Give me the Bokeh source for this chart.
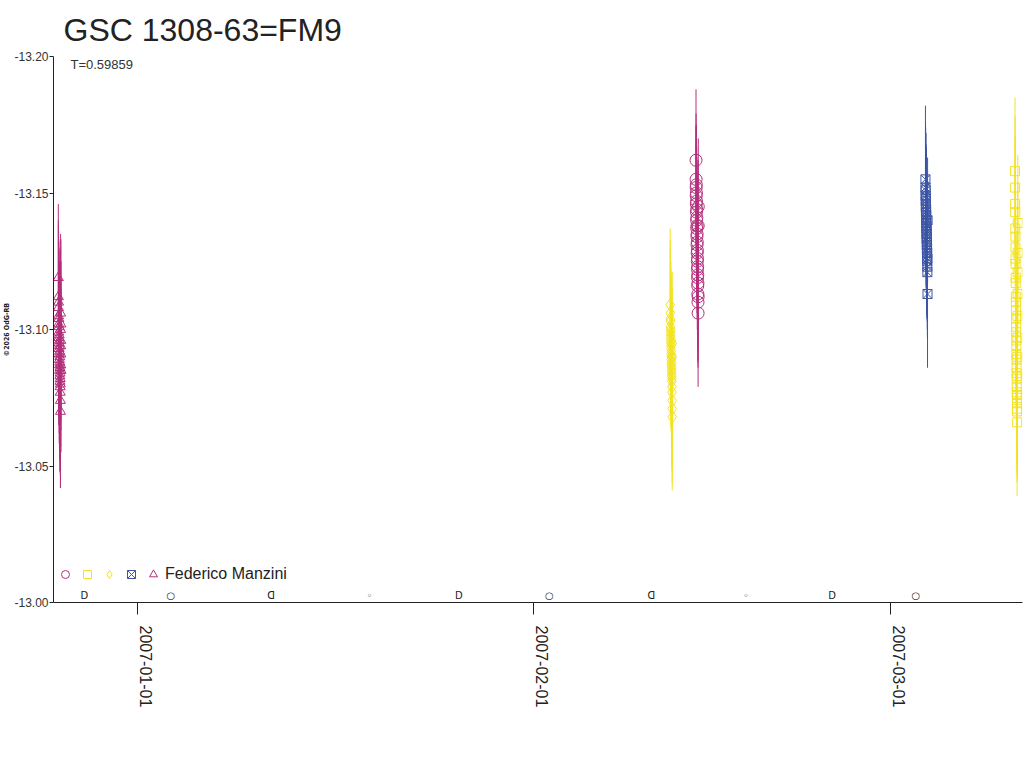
import math
from datetime import datetime, timedelta

from bokeh.plotting import figure
from bokeh.models import (Range1d, FixedTicker, DatetimeTickFormatter, ColumnDataSource,
                          Label, LabelSet, Legend, LegendItem, PrintfTickFormatter)
from bokeh.embed import file_html
from bokeh.resources import INLINE
from bokeh.core.properties import value

# ---------------- data ----------------
TITLE = "GSC 1308-63=FM9"
SUBTITLE = "T=0.59859"
OBSERVER = "Federico Manzini"
CREDIT = "\u00a92026 OdG-RB"

y_ticks = [-13.20, -13.15, -13.10, -13.05, -13.00]
x_tick_dates = ["2007-01-01", "2007-02-01", "2007-03-01"]
x_start = "2006-12-25 09:00"
x_end = "2007-03-11 08:40"

moon_dates = ["2006-12-27 19:00", "2007-01-03 14:00", "2007-01-11 10:30", "2007-01-19 03:30",
              "2007-01-26 04:00", "2007-02-02 06:00", "2007-02-10 06:00", "2007-02-17 16:00",
              "2007-02-24 10:30", "2007-03-03 00:00"]
moon_phases = ["first", "full", "last", "new", "first", "full", "last", "new", "first", "full"]

# night 1 (triangles)
c1_night = "2006-12-25"
c1_hours = [18.05, 18.19, 18.31, 18.48, 18.60, 18.77, 18.88, 19.03, 19.16, 19.29,
            19.41, 19.57, 19.66, 19.82, 19.93, 20.08, 20.17, 20.33, 20.45, 20.58,
            20.71, 20.84, 20.96, 21.09, 21.22, 21.36, 21.47, 21.61, 21.73, 21.86,
            21.98, 22.12, 22.25, 22.37, 22.49, 22.63, 22.74, 22.88, 23.01, 23.14]
c1_mag = [-13.119, -13.112, -13.108, -13.105, -13.110, -13.102, -13.099, -13.104, -13.097, -13.101,
          -13.095, -13.093, -13.098, -13.091, -13.096, -13.089, -13.094, -13.087, -13.092, -13.085,
          -13.090, -13.088, -13.083, -13.086, -13.081, -13.084, -13.079, -13.082, -13.077, -13.080,
          -13.074, -13.070, -13.100, -13.106, -13.094, -13.087, -13.091, -13.096, -13.102, -13.085]
c1_err = [0.027, 0.028, 0.030, 0.029, 0.026, 0.031, 0.030, 0.028, 0.032, 0.029,
          0.030, 0.031, 0.027, 0.033, 0.029, 0.030, 0.028, 0.031, 0.029, 0.032,
          0.030, 0.028, 0.031, 0.029, 0.033, 0.030, 0.031, 0.028, 0.030, 0.029,
          0.032, 0.028, 0.030, 0.029, 0.031, 0.030, 0.028, 0.029, 0.031, 0.030]

# night 2 (diamonds)
c2_night = "2007-02-11"
c2_hours = [17.62, 17.75, 17.91, 18.03, 18.16, 18.30, 18.41, 18.57, 18.69, 18.82,
            18.95, 19.08, 19.22, 19.34, 19.47, 19.61, 19.72, 19.86, 19.99, 20.11,
            20.25, 20.38, 20.50, 20.64, 20.77, 20.89, 21.03, 21.16, 21.28, 21.42,
            21.55, 21.68]
c2_mag = [-13.109, -13.106, -13.104, -13.101, -13.103, -13.099, -13.097, -13.100, -13.095, -13.098,
          -13.093, -13.096, -13.091, -13.094, -13.089, -13.092, -13.087, -13.090, -13.085, -13.088,
          -13.083, -13.086, -13.081, -13.084, -13.079, -13.082, -13.077, -13.074, -13.071, -13.068,
          -13.095, -13.090]
c2_err = [0.028, 0.027, 0.026, 0.027, 0.025, 0.026, 0.027, 0.025, 0.026, 0.027,
          0.025, 0.026, 0.027, 0.025, 0.026, 0.027, 0.025, 0.026, 0.027, 0.025,
          0.026, 0.027, 0.025, 0.026, 0.027, 0.025, 0.028, 0.026, 0.027, 0.027,
          0.026, 0.025]

# night 3 (circles)
c3_night = "2007-02-13"
c3_hours = [18.21, 18.34, 18.46, 18.60, 18.73, 18.85, 18.99, 19.12, 19.24, 19.38,
            19.51, 19.63, 19.77, 19.90, 20.02, 20.16, 20.29, 20.41, 20.55, 20.68,
            20.80, 20.94, 21.07, 21.19, 21.33, 21.46, 21.58, 21.72, 21.85, 21.97,
            22.11, 22.24, 22.36, 22.50]
c3_mag = [-13.162, -13.155, -13.152, -13.149, -13.153, -13.146, -13.150, -13.143, -13.147, -13.140,
          -13.144, -13.137, -13.141, -13.134, -13.138, -13.131, -13.135, -13.128, -13.132, -13.125,
          -13.129, -13.122, -13.126, -13.119, -13.123, -13.116, -13.120, -13.113, -13.117, -13.110,
          -13.106, -13.112, -13.138, -13.145]
c3_err = [0.026, 0.024, 0.023, 0.025, 0.022, 0.024, 0.023, 0.025, 0.022, 0.024,
          0.023, 0.025, 0.022, 0.024, 0.023, 0.025, 0.022, 0.024, 0.023, 0.025,
          0.022, 0.024, 0.023, 0.025, 0.022, 0.024, 0.023, 0.025, 0.022, 0.024,
          0.027, 0.023, 0.024, 0.025]

# night 4 (x-boxes)
c4_night = "2007-03-03"
c4_hours = [18.02, 18.15, 18.27, 18.41, 18.54, 18.66, 18.80, 18.93, 19.05, 19.19,
            19.32, 19.44, 19.58, 19.71, 19.83, 19.97, 20.10, 20.22, 20.36, 20.49,
            20.61, 20.75, 20.88, 21.00, 21.14, 21.27, 21.39, 21.53, 21.66, 21.78,
            21.92, 22.05]
c4_mag = [-13.155, -13.152, -13.149, -13.151, -13.147, -13.145, -13.148, -13.143, -13.146, -13.141,
          -13.144, -13.139, -13.142, -13.137, -13.140, -13.135, -13.138, -13.133, -13.136, -13.131,
          -13.134, -13.129, -13.132, -13.127, -13.130, -13.125, -13.128, -13.123, -13.121, -13.126,
          -13.113, -13.140]
c4_err = [0.027, 0.024, 0.022, 0.023, 0.025, 0.022, 0.024, 0.023, 0.022, 0.025,
          0.023, 0.024, 0.022, 0.023, 0.025, 0.022, 0.024, 0.023, 0.022, 0.025,
          0.023, 0.024, 0.022, 0.023, 0.025, 0.022, 0.024, 0.023, 0.024, 0.022,
          0.027, 0.023]

# night 5 (squares)
c5_night = "2007-03-10"
c5_hours = [18.62, 18.77, 18.89, 19.04, 19.18, 19.31, 19.45, 19.58, 19.70, 19.86,
            19.99, 20.11, 20.26, 20.39, 20.52, 20.66, 20.78, 20.93, 21.05, 21.19,
            21.33, 21.46, 21.58, 21.73, 21.86, 21.99, 22.12, 22.27, 22.40, 22.53,
            22.66, 22.80, 22.93, 23.06, 23.20, 23.33, 23.47, 23.60, 23.73, 23.86]
c5_mag = [-13.158, -13.152, -13.146, -13.143, -13.137, -13.134, -13.130, -13.126, -13.124, -13.119,
          -13.117, -13.112, -13.110, -13.107, -13.104, -13.101, -13.099, -13.096, -13.094, -13.091,
          -13.089, -13.086, -13.084, -13.082, -13.079, -13.077, -13.075, -13.073, -13.070, -13.066,
          -13.071, -13.076, -13.083, -13.090, -13.097, -13.105, -13.113, -13.121, -13.128, -13.139]
c5_err = [0.027, 0.026, 0.025, 0.026, 0.024, 0.025, 0.026, 0.025, 0.024, 0.026,
          0.025, 0.024, 0.026, 0.025, 0.024, 0.025, 0.026, 0.024, 0.025, 0.026,
          0.024, 0.025, 0.026, 0.024, 0.025, 0.026, 0.024, 0.025, 0.026, 0.027,
          0.025, 0.024, 0.026, 0.025, 0.024, 0.026, 0.025, 0.024, 0.026, 0.025]

MAGENTA = "#b4307c"
YELLOW = "#f2e324"
BLUE = "#3c55a6"

series = {
    "c1": (c1_night, c1_hours, c1_mag, c1_err, "triangle", MAGENTA, 10),
    "c2": (c2_night, c2_hours, c2_mag, c2_err, "diamond", YELLOW, 13),
    "c3": (c3_night, c3_hours, c3_mag, c3_err, "circle", MAGENTA, 12),
    "c4": (c4_night, c4_hours, c4_mag, c4_err, "square_x", BLUE, 9),
    "c5": (c5_night, c5_hours, c5_mag, c5_err, "square", YELLOW, 9),
}
legend_order = ["c3", "c5", "c2", "c4", "c1"]

# ---------------- figure ----------------
EPOCH = datetime(1970, 1, 1)


def ms(d):
    return (d - EPOCH).total_seconds() * 1000.0


W, H = 1024, 740
FRAME_TOP, FRAME_BOTTOM, FRAME_LEFT = 56, 602, 46
frame_h = FRAME_BOTTOM - FRAME_TOP

p = figure(width=W, height=H, x_axis_type="datetime", output_backend="svg",
           toolbar_location=None, tools="",
           x_range=Range1d(datetime.fromisoformat(x_start), datetime.fromisoformat(x_end)),
           y_range=Range1d(y_ticks[-1], y_ticks[0]),
           min_border_left=FRAME_LEFT, min_border_right=2, min_border_top=FRAME_TOP,
           min_border_bottom=H - FRAME_BOTTOM, title=TITLE)
p.outline_line_color = None
p.xgrid.visible = False
p.ygrid.visible = False
p.background_fill_color = "white"
p.border_fill_color = "white"

p.title.text_font = "Liberation Sans"
p.title.text_font_size = "32px"
p.title.text_font_style = "normal"
p.title.text_color = "#222222"
p.title.align = "left"
p.title.offset = 10
p.title.standoff = 17

# y axis (credit line carried as the small axis label on the far left)
p.yaxis.ticker = FixedTicker(ticks=y_ticks, minor_ticks=[])
p.yaxis.formatter = PrintfTickFormatter(format="%.2f")
p.yaxis.major_tick_in = 0
p.yaxis.major_tick_out = 4
p.yaxis.minor_tick_line_color = None
p.yaxis.major_label_standoff = 1
p.yaxis.major_label_text_font = "Liberation Sans"
p.yaxis.major_label_text_font_size = "12px"
p.yaxis.major_label_text_color = "#333333"
p.yaxis.axis_line_color = "#222222"
p.yaxis.major_tick_line_color = "#222222"
p.yaxis.axis_label = CREDIT
p.yaxis.axis_label_text_font = "DejaVu Sans Condensed"
p.yaxis.axis_label_text_font_size = "7px"
p.yaxis.axis_label_text_font_style = "bold"
p.yaxis.axis_label_text_color = "#222222"
p.yaxis.axis_label_standoff = 0

# x axis: tick line at month start (minor ticks), date label just to its right
tick_dt = [datetime.fromisoformat(d) for d in x_tick_dates]
label_shift_ms = 0.65 * 86400000.0
p.xaxis.ticker = FixedTicker(ticks=[ms(d) + label_shift_ms for d in tick_dt],
                             minor_ticks=[ms(d) for d in tick_dt])
fmt = "%Y-%m-%d"
p.xaxis.formatter = DatetimeTickFormatter(years=fmt, months=fmt, days=fmt, hours=fmt,
                                          hourmin=fmt, minutes=fmt, minsec=fmt, seconds=fmt)
p.xaxis.major_tick_in = 0
p.xaxis.major_tick_out = 0
p.xaxis.major_tick_line_color = None
p.xaxis.minor_tick_in = 0
p.xaxis.minor_tick_out = 12
p.xaxis.minor_tick_line_color = "#222222"
p.xaxis.major_label_orientation = -math.pi / 2
p.xaxis.major_label_standoff = 11
p.xaxis.major_label_text_font = "Liberation Sans"
p.xaxis.major_label_text_font_size = "16px"
p.xaxis.major_label_text_color = "#222222"
p.xaxis.axis_line_color = "#222222"

# data
renderers = {}
for key, (night, hours, mag, err, marker, color, size) in series.items():
    base = datetime.fromisoformat(night)
    t = [base + timedelta(hours=h) for h in hours]
    src = ColumnDataSource(dict(t=t, mag=mag,
                                lo=[m - e for m, e in zip(mag, err)],
                                hi=[m + e for m, e in zip(mag, err)]))
    p.segment(x0="t", y0="lo", x1="t", y1="hi", source=src, line_color=color, line_width=1)
    renderers[key] = p.scatter(x="t", y="mag", source=src, marker=marker, size=size,
                               line_color=color, fill_color=None, line_width=1)

# moon phases: a row of symbols along the bottom edge of the plot area
moon_sym = {"first": "D", "full": "\u25cb", "last": "\u15e1", "new": "\u25e6"}
msrc = ColumnDataSource(dict(t=[datetime.fromisoformat(d) for d in moon_dates],
                             sym=[moon_sym[ph] for ph in moon_phases]))
p.add_layout(LabelSet(x="t", y=7, y_units="screen", text="sym", source=msrc,
                      text_align="center", text_baseline="middle",
                      text_font=value("DejaVu Sans"), text_font_size="10px",
                      text_color="#222222"))

# subtitle (top-left inside the plot area)
p.add_layout(Label(x=17, y=frame_h - 8, x_units="screen", y_units="screen", text=SUBTITLE,
                   text_font="Liberation Sans", text_font_size="13px",
                   text_baseline="middle", text_color="#333333"))

# legend (bottom-left corner of the plot area)
items = []
for i, key in enumerate(legend_order):
    lab = OBSERVER if i == len(legend_order) - 1 else ""
    items.append(LegendItem(label=lab, renderers=[renderers[key]]))
legend = Legend(items=items, orientation="horizontal", location=(2, 18),
                glyph_width=20, glyph_height=20, label_width=0, label_height=20,
                label_standoff=2, spacing=0, padding=0, margin=0,
                border_line_color=None, background_fill_alpha=0,
                label_text_font="Liberation Sans", label_text_font_size="16px",
                label_text_color="#222222")
p.add_layout(legend)

open("out.html", "w").write(file_html(p, INLINE))
